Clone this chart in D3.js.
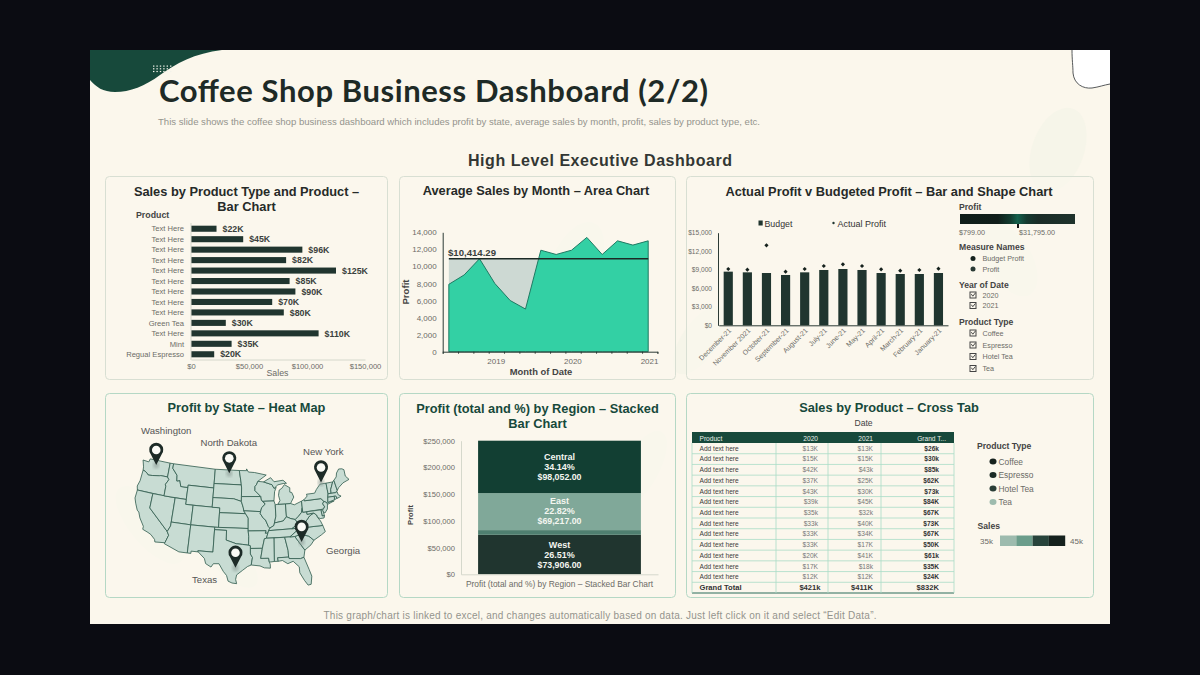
<!DOCTYPE html>
<html>
<head>
<meta charset="utf-8">
<style>
  html, body { margin: 0; padding: 0; background: #0b0c12; }
  svg { display: block; }
  text { font-family: "Liberation Sans", Arial, sans-serif; }
</style>
<script src="https://cdn.jsdelivr.net/npm/d3@7"></script>
</head>
<body>
<svg id="page" width="1200" height="675"></svg>
<script>
// chart 1 - sales by product
var productNames = ["Text Here","Text Here","Text Here","Text Here","Text Here","Text Here","Text Here","Text Here","Text Here","Green Tea","Text Here","Mint","Regual Espresso"];
var productSales = [22000,45000,96000,82000,125000,85000,90000,70000,80000,30000,110000,35000,20000];

// chart 2 - average sales by month
var areaDates = [2018.48,2018.68,2018.88,2019.08,2019.28,2019.48,2019.68,2019.88,2020.08,2020.28,2020.48,2020.68,2020.88,2021.08];
var areaProfit = [7900,9000,10900,8000,6000,5000,11900,11400,11900,13400,11400,13000,12500,13000];
var areaRefValue = 10900;

// chart 3 - actual v budget
var monthNames = ["December-21","November 2021","October-21","September-21","August-21","July-21","June-21","May-21","April-21","March-21","February-21","January-21"];
var budgetProfit = [8690,8580,8470,8150,8580,8960,9120,8960,8470,8310,8310,8470];
var actualProfit = [9120,9010,12950,8690,9120,9600,9870,9600,9060,8850,8960,9170];

// chart 5 - region stack, bottom to top
var regionNames = ["West","","East","Central"];
var regionPct = ["26.51%","","22.82%","34.14%"];
var regionProfit = [73906,8825,69217,98052];
var regionColors = ["#20352f","#4f7f70","#80a899","#123f33"];

// chart 6 - cross tab
var tableHeader = ["Product","2020","2021","Grand T..."];
var table2020 = ["$13K","$15K","$42K","$37K","$43K","$39k","$35k","$33k","$33K","$33K","$20K","$17K","$12K"];
var table2021 = ["$13K","$15K","$43k","$25K","$30K","$45K","$32k","$40K","$34K","$17K","$41K","$18k","$12K"];
var tableTotal = ["$26k","$30k","$85k","$62K","$73k","$84K","$67K","$73K","$67K","$50K","$61k","$35K","$24K"];
var tableGrand = ["$421k","$411K","$832K"];

// map - simplified state outlines, lon/lat
var stateRings = [
 [[-124.7,48.4],[-123,48.3],[-122.8,49],[-117,49],[-117,46],[-118.9,46],[-119.3,45.9],[-121.2,45.65],[-122.3,45.55],[-122.8,45.9],[-123.4,46.2],[-124,46.3],[-124.1,47]],
 [[-124,46.3],[-123.4,46.2],[-122.8,45.9],[-122.3,45.55],[-121.2,45.65],[-119.3,45.9],[-118.9,46],[-117,46],[-116.5,45.5],[-117.2,44.4],[-117,44],[-117,42],[-124.2,42],[-124.5,42.8],[-124.1,44]],
 [[-124.2,42],[-120,42],[-120,39],[-114.6,35],[-114.1,34.3],[-114.7,32.7],[-117.1,32.5],[-117.3,33],[-118.4,33.8],[-119.2,34.1],[-120.6,34.5],[-120.6,35.1],[-121.9,36.6],[-122.5,37.7],[-123,38],[-123.8,39.3],[-124.3,40.3]],
 [[-120,42],[-114,42],[-114,36.2],[-114.6,35],[-120,39]],
 [[-117,49],[-116,49],[-116,48],[-114.5,46.7],[-114.3,45.5],[-113.5,45.7],[-113,44.5],[-111.05,44.5],[-111.05,42],[-117,42],[-117,44],[-117.2,44.4],[-116.5,45.5],[-117,46]],
 [[-116,49],[-104.05,49],[-104.05,45],[-111.05,45],[-111.05,44.5],[-113,44.5],[-113.5,45.7],[-114.3,45.5],[-114.5,46.7],[-116,48]],
 [[-111.05,45],[-104.05,45],[-104.05,41],[-111.05,41]],
 [[-114,42],[-111.05,42],[-111.05,41],[-109.05,41],[-109.05,37],[-114,37]],
 [[-109.05,41],[-102.05,41],[-102.05,37],[-109.05,37]],
 [[-114,37],[-109.05,37],[-109.05,31.33],[-111.07,31.33],[-114.8,32.5],[-114.7,32.7],[-114.1,34.3],[-114.6,35],[-114,36.2]],
 [[-109.05,37],[-103,37],[-103,32],[-106.6,32],[-106.5,31.78],[-108.2,31.78],[-108.2,31.33],[-109.05,31.33]],
 [[-104.05,49],[-97.2,49],[-96.6,46.3],[-96.55,45.94],[-104.05,45.94]],
 [[-104.05,45.94],[-96.55,45.94],[-96.45,45.3],[-96.45,43.5],[-96.45,42.5],[-98.5,43],[-104.05,43]],
 [[-104.05,43],[-98.5,43],[-96.45,42.5],[-95.9,41.2],[-95.77,40.58],[-95.3,40],[-102.05,40],[-102.05,41],[-104.05,41]],
 [[-102.05,40],[-95.3,40],[-94.6,39.1],[-94.6,37],[-102.05,37]],
 [[-103,37],[-94.6,37],[-94.6,36.5],[-94.45,35.4],[-94.48,33.64],[-96,33.8],[-97.5,33.9],[-100,34.56],[-100,36.5],[-103,36.5]],
 [[-106.6,32],[-103,32],[-103,36.5],[-100,36.5],[-100,34.56],[-97.5,33.9],[-96,33.8],[-94.48,33.64],[-94.04,33.55],[-94.04,33],[-94.04,31.9],[-93.55,31.2],[-93.85,29.7],[-94.7,29.4],[-95.9,28.6],[-97.2,27.7],[-97.4,26.8],[-97.15,25.95],[-98.2,26.05],[-99.1,26.4],[-99.5,27.5],[-100.3,28.3],[-101.4,29.77],[-102.7,29.7],[-103.2,29],[-104.5,29.6],[-104.9,30.6],[-106.5,31.78]],
 [[-97.2,49],[-95.15,49],[-95.15,49.38],[-94.6,48.7],[-92.9,48.6],[-89.6,48],[-92,46.7],[-92.3,46.1],[-92.8,45.6],[-92.8,44.75],[-91.25,43.5],[-96.45,43.5],[-96.45,45.3],[-96.55,45.94],[-96.6,46.3]],
 [[-96.45,43.5],[-91.25,43.5],[-91.1,42.7],[-90.15,41.9],[-91.1,41.2],[-91.4,40.4],[-95.77,40.58],[-95.9,41.2],[-96.45,42.5]],
 [[-95.77,40.58],[-91.4,40.4],[-91.5,40],[-90.7,39],[-90.2,38.7],[-89.5,37.3],[-89.15,37],[-89.5,36.5],[-89.7,36],[-90.37,36],[-90.15,36.5],[-94.6,36.5],[-94.6,39.1],[-95.3,40]],
 [[-94.6,36.5],[-90.15,36.5],[-90.37,36],[-89.7,36],[-90.1,35],[-90.6,34.9],[-91.15,33],[-94.04,33],[-94.04,33.55],[-94.48,33.64],[-94.45,35.4]],
 [[-94.04,33],[-91.15,33],[-91.6,31],[-89.73,31],[-89.6,30.2],[-89.4,29.8],[-89.4,29],[-90.8,29.1],[-91.8,29.5],[-93.85,29.7],[-93.55,31.2],[-94.04,31.9]],
 [[-92,46.7],[-90.4,46.55],[-88.1,45.9],[-87.6,45.1],[-87,45.3],[-87.5,44.4],[-87.8,42.5],[-90.64,42.5],[-91.1,42.7],[-91.25,43.5],[-92.8,44.75],[-92.8,45.6],[-92.3,46.1]],
 [[-90.64,42.5],[-87.8,42.5],[-87.5,41.7],[-87.5,39.35],[-87.95,38],[-88.1,37.5],[-89.15,37],[-89.5,37.3],[-90.2,38.7],[-90.7,39],[-91.5,40],[-91.4,40.4],[-91.1,41.2],[-90.15,41.9]],
 [[-87.5,41.7],[-86.8,41.76],[-84.8,41.76],[-84.8,39.1],[-85.7,38.3],[-87.95,38],[-87.5,39.35]],
 [[-84.8,41.76],[-83.45,41.73],[-82.5,41.4],[-80.52,42],[-80.52,40.64],[-80.85,39.7],[-81.7,39],[-82.6,38.4],[-83.7,38.65],[-84.8,39.1]],
 [[-86.8,41.76],[-84.8,41.76],[-83.45,41.73],[-83.1,42.2],[-82.45,43],[-82.9,44],[-83.4,44.1],[-83.3,45],[-84.7,45.75],[-85.5,45],[-86.2,44.7],[-86.5,43.6],[-86.2,42.5]],
 [[-90.4,46.55],[-88.4,47.4],[-87.5,46.5],[-85,46.7],[-84.1,46],[-85,46],[-86.5,45.8],[-87.6,45.1],[-88.1,45.9]],
 [[-89.15,37],[-88.1,37.5],[-87.95,38],[-85.7,38.3],[-84.8,39.1],[-83.7,38.65],[-82.6,38.4],[-82,37.5],[-83.68,36.6],[-89.5,36.5]],
 [[-89.5,36.5],[-83.68,36.6],[-81.68,36.59],[-84.32,35],[-90.1,35],[-89.7,36]],
 [[-90.1,35],[-88.2,35],[-88.4,30.3],[-89.6,30.2],[-89.73,31],[-91.6,31],[-91.15,33],[-90.6,34.9]],
 [[-88.2,35],[-85.6,35],[-85,32.3],[-85,31],[-87.6,31],[-87.5,30.3],[-88.4,30.3]],
 [[-85.6,35],[-83.1,35],[-81,32.1],[-81.4,30.7],[-82.2,30.5],[-84.9,30.7],[-85,31],[-85,32.3]],
 [[-87.6,31],[-85,31],[-84.9,30.7],[-82.2,30.5],[-81.4,30.7],[-80.5,28.2],[-80.05,26.8],[-80.4,25.2],[-81.1,25.1],[-81.8,26.1],[-82.7,27.7],[-82.7,28.9],[-84,30.1],[-85.3,29.7],[-86.5,30.4],[-87.5,30.3]],
 [[-83.1,35],[-82.3,35.2],[-81,35.15],[-79.7,34.8],[-78.55,33.85],[-79.4,33],[-81,32.1]],
 [[-84.32,35],[-81.68,36.59],[-75.9,36.55],[-75.5,35.25],[-76.6,34.7],[-78.55,33.85],[-79.7,34.8],[-81,35.15],[-82.3,35.2],[-83.1,35]],
 [[-83.68,36.6],[-81.68,36.59],[-75.9,36.55],[-76.3,37.5],[-76.9,38.3],[-77.05,38.8],[-77.75,39.3],[-78.9,38.8],[-80.3,37.5],[-81.7,37.2],[-82,37.5]],
 [[-82.6,38.4],[-81.7,39],[-80.85,39.7],[-80.52,40.64],[-80.52,39.72],[-79.48,39.72],[-79.48,39.2],[-77.75,39.3],[-78.9,38.8],[-80.3,37.5],[-81.7,37.2],[-82,37.5]],
 [[-80.52,42],[-79.76,42.27],[-79.76,42],[-75.35,42],[-74.7,41.35],[-75.1,40.9],[-74.7,40.2],[-75.4,39.8],[-80.52,39.72]],
 [[-79.76,42.27],[-78.9,42.9],[-79,43.3],[-76.8,43.3],[-76.2,44],[-75,45],[-73.35,45],[-73.3,43.6],[-73.27,42.75],[-73.5,42.05],[-73.7,41],[-72,41.1],[-73.9,40.6],[-74,41],[-74.7,41.35],[-75.35,42],[-79.76,42]],
 [[-73.35,45],[-71.5,45],[-72.4,43.5],[-72.45,42.73],[-73.27,42.75],[-73.3,43.6]],
 [[-71.5,45],[-71.1,45.3],[-70.7,43.1],[-71.3,42.7],[-72.45,42.73],[-72.4,43.5]],
 [[-71.1,45.3],[-70.3,45.9],[-70,46.7],[-69.2,47.45],[-68.3,47.35],[-67.8,47.07],[-67.8,45.7],[-67,44.85],[-68.8,44.4],[-70.2,43.6],[-70.7,43.1]],
 [[-73.27,42.75],[-71.3,42.7],[-70.8,42.85],[-70.7,42.2],[-70,41.8],[-70.6,41.6],[-71.15,41.5],[-71.4,42.02],[-71.8,42.02],[-73.5,42.05]],
 [[-71.8,42.02],[-71.4,42.02],[-71.15,41.5],[-71.85,41.32]],
 [[-73.5,42.05],[-71.8,42.02],[-71.85,41.32],[-73.7,41]],
 [[-74.7,41.35],[-74,41],[-73.9,40.6],[-74.1,39.7],[-74.9,38.95],[-75.5,39.5],[-74.7,40.2],[-75.1,40.9]],
 [[-75.8,39.72],[-75.4,39.8],[-75.1,38.45],[-75.7,38.45]],
 [[-79.48,39.72],[-75.8,39.72],[-75.7,38.45],[-75.1,38.45],[-75.3,38],[-76.3,38],[-76.9,38.3],[-77.05,38.8],[-77.75,39.3],[-79.48,39.2]]
];
var pinNames = ["Washington","North Dakota","New York","Georgia","Texas"];
var pinLonLat = [[-120.7,47.8],[-100,48.1],[-74.7,45.1],[-81.6,33.6],[-97.5,28.9]];

var dark = "#20352f", teal = "#17493b", grey = "#6b6b66", head = "#262a28";
var svg = d3.select("#page");
var defs = svg.append("defs");

function txt(g, x, y, s, size, color, anchor, weight) {
  return g.append("text").attr("x", x).attr("y", y).text(s)
    .attr("font-size", size).attr("fill", color)
    .attr("text-anchor", anchor || "start").attr("font-weight", weight || "normal");
}

// slide background
svg.append("rect").attr("x", 90).attr("y", 50).attr("width", 1020).attr("height", 574).attr("fill", "#fbf7ec");
svg.append("path").attr("d", "M90,50 L222,50 C195,53 175,64 160,75 C145,86 130,92 115,92 C103,92 96,87 90,80 Z").attr("fill", teal);
svg.append("path").attr("d", "M1072,50 C1072,60 1073,66 1073,73 C1074,84 1083,89 1092,88 C1099,87 1104,85 1110,84 L1110,50 Z").attr("fill", "#ffffff");
svg.append("path").attr("d", "M1072,50 C1072,60 1073,66 1073,73 C1074,84 1083,89 1092,88 C1099,87 1104,85 1110,84").attr("fill", "none").attr("stroke", "#44474a").attr("stroke-width", 0.9);
d3.range(6).forEach(function(i) {
  d3.range(3).forEach(function(j) {
    svg.append("rect").attr("x", 153 + i * 3.4).attr("y", 65.5 + j * 2.7).attr("width", 1.4).attr("height", 1.2).attr("fill", "#f3f3ea");
  });
});
// faint leaves behind the panels
[[1058,150,26,44,20],[1010,260,22,40,-30],[575,265,24,46,25],[150,525,20,48,-40],[700,340,18,40,35],[230,560,16,36,-45],[640,470,18,44,30]].forEach(function(l) {
  svg.append("ellipse").attr("cx", 0).attr("cy", 0).attr("rx", l[2]).attr("ry", l[3])
    .attr("transform", "translate(" + l[0] + "," + l[1] + ") rotate(" + l[4] + ")")
    .attr("fill", "#f6f5e9");
});

txt(svg, 159, 102, "Coffee Shop Business Dashboard (2/2)", 31, "#1e2a26", "start", "bold")
  .style("font-family", "Lato").attr("textLength", 549).attr("lengthAdjust", "spacing");
txt(svg, 158, 125, "This slide shows the coffee shop business dashboard which includes profit by state, average sales by month, profit,  sales by product type,  etc.", 9.8, "#94948c")
  .attr("textLength", 602).attr("lengthAdjust", "spacingAndGlyphs");
txt(svg, 600, 165.5, "High Level Executive Dashboard", 16, "#333734", "middle", "bold").attr("textLength", 264);
txt(svg, 600, 619, "This graph/chart is linked to excel, and changes automatically based on data. Just left click on it and select \u201cEdit Data\u201d.", 10, "#94948c", "middle")
  .attr("textLength", 553).attr("lengthAdjust", "spacing");

// panels
function panel(x, y, w, h, border) {
  svg.append("rect").attr("x", x).attr("y", y).attr("width", w).attr("height", h).attr("rx", 4)
    .attr("fill", "#fbf8ee").attr("fill-opacity", 0.55).attr("stroke", border).attr("stroke-width", 1);
}
panel(105.5, 176.5, 282, 203, "#d8dfd3");
panel(399.5, 176.5, 276, 203, "#d8dfd3");
panel(686.5, 176.5, 407, 203, "#d8dfd3");
panel(105.5, 393.5, 282, 204, "#b5d8c5");
panel(399.5, 393.5, 276, 204, "#b5d8c5");
panel(686.5, 393.5, 407, 204, "#b5d8c5");

txt(svg, 246.5, 196, "Sales by Product Type and Product \u2013", 12.8, head, "middle", "bold");
txt(svg, 246.5, 211, "Bar Chart", 12.8, head, "middle", "bold");
txt(svg, 536, 195, "Average Sales by Month \u2013 Area Chart", 12.8, head, "middle", "bold");
txt(svg, 889, 196, "Actual Profit v Budgeted Profit \u2013 Bar and Shape Chart", 12.8, head, "middle", "bold");
txt(svg, 246.5, 412, "Profit by State \u2013 Heat Map", 12.8, teal, "middle", "bold");
txt(svg, 537.5, 413, "Profit (total and %) by Region \u2013 Stacked", 12.8, teal, "middle", "bold");
txt(svg, 537.5, 428, "Bar Chart", 12.8, teal, "middle", "bold");
txt(svg, 889, 412, "Sales by Product \u2013 Cross Tab", 12.8, teal, "middle", "bold");

function styleAxis(g, size, color, lineColor) {
  g.selectAll("text").attr("font-size", size).attr("fill", color);
  g.selectAll("path,line").attr("stroke", lineColor);
}

// ---- chart 1
var c1 = svg.append("g");
var x1 = d3.scaleLinear().domain([0, 150000]).range([191, 365]);
var y1 = d3.scaleBand().domain(d3.range(productNames.length)).range([223.5, 359.5]).paddingInner(0.42).paddingOuter(0.21);
c1.selectAll("rect").data(productSales).enter().append("rect")
  .attr("x", x1(0)).attr("y", function(d, i) { return y1(i); })
  .attr("width", function(d) { return x1(d) - x1(0); }).attr("height", y1.bandwidth()).attr("fill", dark);
c1.selectAll(".val").data(productSales).enter().append("text").attr("class", "val")
  .attr("x", function(d) { return x1(d) + 6; }).attr("y", function(d, i) { return y1(i) + y1.bandwidth() / 2 + 3.2; })
  .text(function(d) { return "$" + d / 1000 + "K"; })
  .attr("font-size", 8.8).attr("font-weight", "bold").attr("fill", "#3a3f3c");
c1.selectAll(".nm").data(productNames).enter().append("text").attr("class", "nm")
  .attr("x", 184).attr("y", function(d, i) { return y1(i) + y1.bandwidth() / 2 + 2.7; })
  .attr("text-anchor", "end").text(function(d) { return d; })
  .attr("font-size", 7.6).attr("fill", grey);
txt(c1, 136, 218, "Product", 8.8, "#444", "start", "bold");
var ax1 = c1.append("g").attr("transform", "translate(0,359.5)")
  .call(d3.axisBottom(x1).tickValues([0, 50000, 100000, 150000]).tickSize(0).tickPadding(4).tickFormat(d3.format("$,")));
styleAxis(ax1, 7.6, grey, "#d5d8cc");
txt(c1, 277.5, 376, "Sales", 8.8, grey, "middle");
c1.append("line").attr("x1", 191).attr("x2", 191).attr("y1", 223).attr("y2", 360).attr("stroke", "#d5d8cc");

// ---- chart 2
var c2 = svg.append("g");
var x2 = d3.scaleLinear().domain([2018.4, 2021.2]).range([442.7, 657.4]);
var y2 = d3.scaleLinear().domain([0, 14000]).range([351.7, 232.3]);
c2.append("rect").attr("x", x2(areaDates[0])).attr("width", x2(areaDates[areaDates.length - 1]) - x2(areaDates[0]))
  .attr("y", y2(areaRefValue)).attr("height", y2(0) - y2(areaRefValue)).attr("fill", "#cdd9d3");
var area2 = d3.area().x(function(d, i) { return x2(areaDates[i]); }).y0(y2(0)).y1(function(d) { return y2(d); });
c2.append("path").datum(areaProfit).attr("d", area2).attr("fill", "#33d0a4").attr("stroke", "#1f7a63").attr("stroke-width", 1);
c2.append("line").attr("x1", x2(areaDates[0])).attr("x2", x2(areaDates[areaDates.length - 1]))
  .attr("y1", y2(areaRefValue)).attr("y2", y2(areaRefValue)).attr("stroke", "#1c2a26").attr("stroke-width", 1.6);
txt(c2, 448, 255.5, "$10,414.29", 9.6, "#3a3f3c", "start", "bold");
var ax2 = c2.append("g").attr("transform", "translate(0," + y2(0) + ")")
  .call(d3.axisBottom(x2).tickValues(d3.range(0, 15).map(function(i) { return 2018.4 + i * 0.2; })).tickSize(2)
    .tickFormat(function(d) { var r = Math.round(d * 10) / 10; return r % 1 === 0 ? r : ""; }));
styleAxis(ax2, 8, grey, "#2c3b36");
ax2.selectAll("text").attr("dy", "0.95em").attr("dx", 7);
var ay2 = c2.append("g").attr("transform", "translate(442.7,0)")
  .call(d3.axisLeft(y2).tickValues(d3.range(0, 14001, 2000)).tickSize(0).tickPadding(6).tickFormat(d3.format(",")));
styleAxis(ay2, 8, grey, "#2c3b36");
txt(c2, 541, 375, "Month of Date", 9.4, "#444", "middle", "bold");
txt(c2, 0, 0, "Profit", 9.6, "#444", "middle", "bold").attr("transform", "translate(409,292) rotate(-90)");

// ---- chart 3
var c3 = svg.append("g");
var x3 = d3.scaleBand().domain(monthNames).range([718.7, 948]).paddingInner(0.52).paddingOuter(0.26);
var y3 = d3.scaleLinear().domain([0, 15000]).range([325.3, 232.7]);
c3.selectAll("rect").data(budgetProfit).enter().append("rect")
  .attr("x", function(d, i) { return x3(monthNames[i]); }).attr("y", function(d) { return y3(d); })
  .attr("width", x3.bandwidth()).attr("height", function(d) { return y3(0) - y3(d); }).attr("fill", dark);
var marker = d3.symbol().type(d3.symbolDiamond2).size(11);
c3.selectAll(".pt").data(actualProfit).enter().append("path").attr("class", "pt").attr("d", marker)
  .attr("transform", function(d, i) { return "translate(" + (x3(monthNames[i]) + x3.bandwidth() / 2) + "," + y3(d) + ")"; })
  .attr("fill", "#15211d");
var ax3 = c3.append("g").attr("transform", "translate(0," + y3(0) + ")")
  .call(d3.axisBottom(x3).tickSize(0).tickPadding(3));
styleAxis(ax3, 7, grey, "#2c3b36");
ax3.selectAll("text").attr("text-anchor", "end").attr("transform", "rotate(-45)").attr("dx", "-0.2em").attr("dy", "0.5em");
var ay3 = c3.append("g").attr("transform", "translate(718,0)")
  .call(d3.axisLeft(y3).tickValues(d3.range(0, 15001, 3000)).tickSize(0).tickPadding(6).tickFormat(d3.format("$,")));
styleAxis(ay3, 6.6, grey, "#2c3b36");
c3.append("rect").attr("x", 758.5).attr("y", 220.5).attr("width", 4.2).attr("height", 5).attr("fill", dark);
txt(c3, 764.5, 226.5, "Budget", 8.8, "#333");
c3.append("circle").attr("cx", 833.5).attr("cy", 223).attr("r", 1.2).attr("fill", dark);
txt(c3, 837.5, 226.5, "Actual Profit", 9, "#333");

var gradId = defs.append("linearGradient").attr("id", "profitGrad");
[[0, "#0f1d19"], [0.33, "#101e1a"], [0.44, "#123c30"], [0.5, "#14604c"], [0.58, "#153a30"], [0.68, "#1a2c27"], [1, "#1e322c"]].forEach(function(s) {
  gradId.append("stop").attr("offset", s[0]).attr("stop-color", s[1]);
});
txt(c3, 959, 210, "Profit", 8.6, "#444", "start", "bold");
c3.append("rect").attr("x", 960).attr("y", 214).attr("width", 115).attr("height", 10).attr("fill", "url(#profitGrad)");
c3.append("rect").attr("x", 1017).attr("y", 224).attr("width", 2).attr("height", 4).attr("fill", "#111");
txt(c3, 959, 234.5, "$799.00", 7.2, grey);
txt(c3, 1019, 234.5, "$31,795.00", 7.2, grey);
txt(c3, 959, 250, "Measure Names", 8.6, "#444", "start", "bold");
[["Budget Profit", 258.5, "#15211d"], ["Profit", 269, "#2a3a35"]].forEach(function(d) {
  c3.append("circle").attr("cx", 973).attr("cy", d[1]).attr("r", 2.5).attr("fill", d[2]);
  txt(c3, 982.5, d[1] + 2.5, d[0], 7.2, grey);
});
function checkbox(g, x, y, label) {
  g.append("rect").attr("x", x).attr("y", y - 3).attr("width", 6).attr("height", 6).attr("fill", "none").attr("stroke", "#444").attr("stroke-width", 1);
  g.append("path").attr("d", "M" + (x + 1.3) + "," + (y - 0.8) + "l1.5,2l2.6,-3.2").attr("fill", "none").attr("stroke", "#333").attr("stroke-width", 0.9);
  txt(g, x + 12.5, y + 2.5, label, 7.2, grey);
}
txt(c3, 959, 288, "Year of Date", 8.6, "#444", "start", "bold");
checkbox(c3, 970, 295, "2020");
checkbox(c3, 970, 305.5, "2021");
txt(c3, 959, 324.5, "Product Type", 8.6, "#444", "start", "bold");
checkbox(c3, 970, 333, "Coffee");
checkbox(c3, 970, 345, "Espresso");
checkbox(c3, 970, 356.5, "Hotel Tea");
checkbox(c3, 970, 368.5, "Tea");

// ---- map
var c4 = svg.append("g");
var features = stateRings.map(function(r) {
  var ring = r.concat([r[0]]);
  var f = { type: "Feature", geometry: { type: "Polygon", coordinates: [ring] } };
  if (d3.geoArea(f) > 2 * Math.PI) f.geometry.coordinates = [ring.slice().reverse()];
  return f;
});
var proj = d3.geoConicEqualArea().rotate([94, 0]).center([0, 38]).parallels([20, 36])
  .fitExtent([[135, 457], [349, 587]], { type: "FeatureCollection", features: features });
var geo = d3.geoPath(proj);
c4.selectAll("path").data(features).enter().append("path").attr("d", geo)
  .attr("fill", "#c8dcd3").attr("stroke", "#2f5a4d").attr("stroke-width", 0.8).attr("stroke-linejoin", "round");
var blur = defs.append("filter").attr("id", "pinBlur");
blur.append("feGaussianBlur").attr("stdDeviation", 1.4);
var pinLabelPos = [[141, 434], [200.5, 446], [303, 455], [326, 554], [192, 583]];
pinNames.forEach(function(name, i) {
  var p = proj(pinLonLat[i]);
  var pin = c4.append("g").attr("transform", "translate(" + p[0] + "," + p[1] + ")");
  pin.append("ellipse").attr("cx", 0).attr("cy", -1).attr("rx", 3).attr("ry", 3.5).attr("fill", "#8a9a94").attr("opacity", 0.6).attr("filter", "url(#pinBlur)");
  pin.append("path").attr("d", "M0,-1 L-5.6,-12 A7,7 0 1 1 5.6,-12 Z").attr("fill", "#1d2b27");
  pin.append("circle").attr("cx", 0).attr("cy", -16).attr("r", 4.3).attr("fill", "#fbfbf6");
  txt(c4, pinLabelPos[i][0], pinLabelPos[i][1], name, 9.6, "#555");
});

// ---- chart 5
var c5 = svg.append("g");
var y5 = d3.scaleLinear().domain([0, 250000]).range([574.3, 440.7]);
var x5 = d3.scaleBand().domain(["Profit (total and %) by Region \u2013 Stacked Bar Chart"]).range([461, 658]).padding(0.095);
var x5Name = x5.domain()[0];
var stack5 = d3.stack().keys(d3.range(regionProfit.length))([regionProfit]);
c5.selectAll("rect").data(stack5).enter().append("rect")
  .attr("x", x5(x5Name)).attr("width", x5.bandwidth())
  .attr("y", function(s) { return y5(s[0][1]); })
  .attr("height", function(s) { return y5(s[0][0]) - y5(s[0][1]); })
  .attr("fill", function(s, i) { return regionColors[i]; });
var regionLabelY = [555, 0, 511, 466.5];
stack5.forEach(function(s, i) {
  if (!regionNames[i]) return;
  var cx = x5(x5Name) + x5.bandwidth() / 2, cy = regionLabelY[i];
  txt(c5, cx, cy - 7, regionNames[i], 9, "#f4f6f0", "middle", "bold");
  txt(c5, cx, cy + 3, regionPct[i], 9, "#f4f6f0", "middle", "bold");
  txt(c5, cx, cy + 13, "$" + d3.format(",.2f")(regionProfit[i]), 8.8, "#f4f6f0", "middle", "bold");
});
var ax5 = c5.append("g").attr("transform", "translate(0," + y5(0) + ")").call(d3.axisBottom(x5).tickSize(0).tickPadding(7));
styleAxis(ax5, 8.4, grey, "#d5d8cc");
var ay5 = c5.append("g").attr("transform", "translate(461,0)")
  .call(d3.axisLeft(y5).tickValues(d3.range(0, 250001, 50000)).tickSize(0).tickPadding(6).tickFormat(d3.format("$,")));
styleAxis(ay5, 7.6, grey, "#d5d8cc");
txt(c5, 0, 0, "Profit", 7.6, "#444", "middle", "bold").attr("transform", "translate(413,515) rotate(-90)");

// ---- cross tab
var c6 = svg.append("g");
txt(c6, 863.5, 426, "Date", 8.6, "#444", "middle");
var tableRows = table2020.length + 1;
var rowY = d3.scaleLinear().domain([0, tableRows]).range([443, 593]);
var colLines = [692, 776, 828, 881, 954];
c6.append("rect").attr("x", 692).attr("y", 432).attr("width", 262).attr("height", 11).attr("fill", teal);
txt(c6, 699.5, 440.5, tableHeader[0], 6.6, "#e8efe8");
txt(c6, 818, 440.5, tableHeader[1], 6.6, "#e8efe8", "end");
txt(c6, 873, 440.5, tableHeader[2], 6.6, "#e8efe8", "end");
txt(c6, 946, 440.5, tableHeader[3], 6.6, "#e8efe8", "end");
d3.range(1, tableRows + 1).forEach(function(i) {
  c6.append("line").attr("x1", 692).attr("x2", 954).attr("y1", rowY(i)).attr("y2", rowY(i))
    .attr("stroke", i === tableRows ? "#6f9a8a" : "#a9dcc7").attr("stroke-width", i === tableRows ? 1.4 : 0.8);
});
colLines.forEach(function(x) {
  c6.append("line").attr("x1", x).attr("x2", x).attr("y1", 443).attr("y2", 593).attr("stroke", "#a9dcc7").attr("stroke-width", 0.8);
});
table2020.forEach(function(v, i) {
  var y = rowY(i) + 7.7;
  txt(c6, 699.5, y, "Add text here", 6.6, "#3d3d3a");
  txt(c6, 818, y, v, 6.6, "#777", "end");
  txt(c6, 873, y, table2021[i], 6.6, "#777", "end");
  txt(c6, 939, y, tableTotal[i], 6.6, "#333", "end", "bold");
});
var gy = rowY(table2020.length) + 8;
txt(c6, 699.5, gy, "Grand Total", 7.6, "#333", "start", "bold");
txt(c6, 820.5, gy, tableGrand[0], 7.6, "#333", "end", "bold");
txt(c6, 873, gy, tableGrand[1], 7.6, "#333", "end", "bold");
txt(c6, 939, gy, tableGrand[2], 7.6, "#333", "end", "bold");

txt(c6, 977, 449, "Product Type", 8.6, "#444", "start", "bold");
[["Coffee", 461.5, "#15211d"], ["Espresso", 475, "#1b2a25"], ["Hotel Tea", 488.5, "#2a3d36"], ["Tea", 502, "#9dbbae"]].forEach(function(d) {
  c6.append("ellipse").attr("cx", 993).attr("cy", d[1]).attr("rx", 3.5).attr("ry", 3).attr("fill", d[2]);
  txt(c6, 998.5, d[1] + 3, d[0], 8.4, grey);
});
txt(c6, 977.5, 529, "Sales", 8.6, "#444", "start", "bold");
txt(c6, 980, 544, "35k", 8, grey);
["#9dbbae", "#6b9d8b", "#27433b", "#15211d"].forEach(function(c, i) {
  c6.append("rect").attr("x", 1000 + i * 16.3).attr("y", 535.5).attr("width", 16.3).attr("height", 10.5).attr("fill", c);
});
txt(c6, 1070, 544, "45k", 8, grey);
</script>
</body>
</html>
